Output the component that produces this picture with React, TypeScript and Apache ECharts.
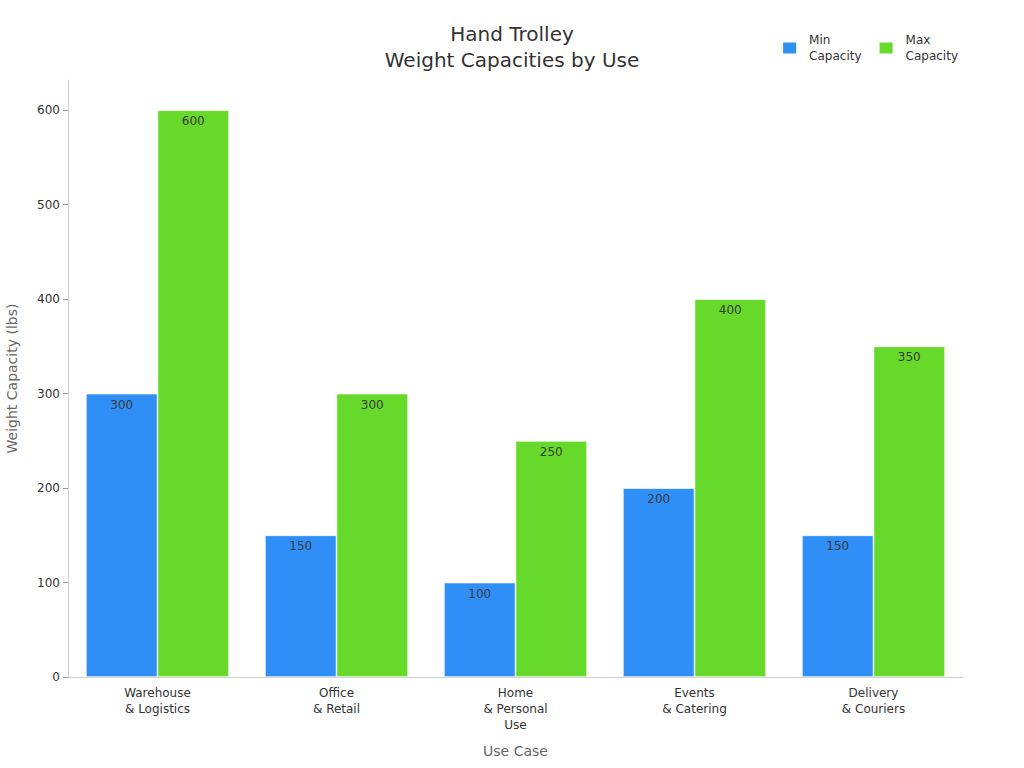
import { useEffect, useRef } from 'react';
import * as echarts from 'echarts';

const categories = [
  'Warehouse\n& Logistics',
  'Office\n& Retail',
  'Home\n& Personal\nUse',
  'Events\n& Catering',
  'Delivery\n& Couriers',
];
const minCapacity = [300, 150, 100, 200, 150];
const maxCapacity = [600, 300, 250, 400, 350];
const yTicks = [0, 100, 200, 300, 400, 500, 600];

const FONT = 'DejaVu Sans';

export default function App() {
  const chartRef = useRef<HTMLDivElement>(null);

  useEffect(() => {
    if (!chartRef.current) return;
    const chart = echarts.init(chartRef.current, null, { renderer: 'svg' });

    const barLabel = {
      show: true,
      position: 'insideTop',
      distance: 5,
      color: '#3a3a3a',
      fontSize: 12,
      fontFamily: FONT,
    };

    chart.setOption({
      animation: false,
      textStyle: { fontFamily: FONT },
      title: {
        text: 'Hand Trolley\nWeight Capacities by Use',
        left: 'center',
        top: 16,
        textStyle: {
          fontSize: 20,
          fontWeight: 'normal',
          color: '#333',
          lineHeight: 26,
          fontFamily: FONT,
        },
      },
      legend: {
        right: 61,
        top: 27,
        itemWidth: 15,
        itemHeight: 13,
        itemGap: 16,
        icon: 'rect',
        textStyle: {
          fontSize: 12,
          color: '#333',
          lineHeight: 16,
          fontFamily: FONT,
          padding: [0, 0, 0, 7],
        },
        data: ['Min\nCapacity', 'Max\nCapacity'],
      },
      grid: { left: 68, right: 61, top: 80, bottom: 91, outerBoundsMode: 'none', containLabel: false },
      xAxis: {
        type: 'category',
        data: categories,
        name: 'Use Case',
        nameLocation: 'middle',
        nameGap: 67,
        nameTextStyle: { fontSize: 14, color: '#666', fontFamily: FONT },
        axisLine: { lineStyle: { color: '#ccc' } },
        axisTick: { alignWithLabel: true, lineStyle: { color: '#999' } },
        axisLabel: { fontSize: 12, color: '#333', lineHeight: 16, margin: 8, interval: 0 },
      },
      yAxis: {
        type: 'value',
        min: 0,
        max: 632,
        interval: 100,
        name: 'Weight Capacity (lbs)',
        nameLocation: 'middle',
        nameGap: 49,
        nameTextStyle: { fontSize: 14, color: '#666', fontFamily: FONT },
        axisLine: { show: true, lineStyle: { color: '#ccc' } },
        axisTick: { show: true, length: 5, lineStyle: { color: '#999' }, customValues: yTicks },
        axisLabel: { fontSize: 12, color: '#333', margin: 8, customValues: yTicks },
        splitLine: { show: false },
      },
      series: [
        {
          name: 'Min\nCapacity',
          type: 'bar',
          data: minCapacity,
          barGap: '0%',
          barCategoryGap: '20%',
          itemStyle: { color: '#2f8ff7', borderColor: '#fff', borderWidth: 0.7 },
          label: barLabel,
        },
        {
          name: 'Max\nCapacity',
          type: 'bar',
          data: maxCapacity,
          itemStyle: { color: '#66d92a', borderColor: '#fff', borderWidth: 0.7 },
          label: barLabel,
        },
      ],
    });

    return () => {
      chart.dispose();
    };
  }, []);

  return (
    <div
      ref={chartRef}
      style={{ position: 'absolute', left: 0, top: 0, width: 1024, height: 768, background: '#fff' }}
    />
  );
}
